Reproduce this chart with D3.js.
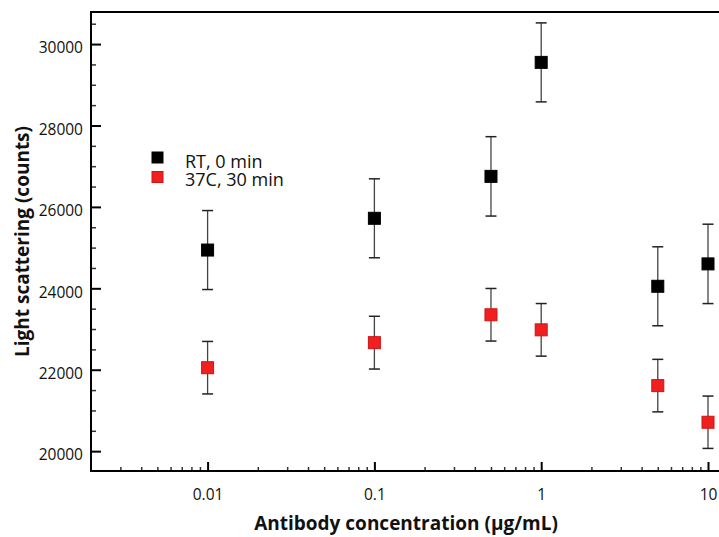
<!DOCTYPE html>
<html>
<head>
<meta charset="utf-8">
<script src="https://cdn.jsdelivr.net/npm/d3@7"></script>
<style>
  html, body { margin: 0; padding: 0; background: #fff; }
  svg { display: block; }
  text { font-family: "Open Sans", "Noto Sans", sans-serif; fill: #111; }
</style>
</head>
<body>
<script>
// Antibody concentrations (µg/mL)
const concentrations = [0.01, 0.1, 0.5, 1, 5, 10];

// Light scattering, room temperature, 0 min
const rtMean = [24940, 25720, 26750, 29550, 24050, 24600];
const rtErr  = [970, 970, 975, 970, 970, 975];

// Light scattering, 37C, 30 min
const warmMean = [22050, 22665, 23350, 22980, 21610, 20710];
const warmErr  = [645, 648, 646, 646, 645, 643];

const seriesNames = ["RT, 0 min", "37C, 30 min"];
const xTickLabels = ["0.01", "0.1", "1", "10"];
const yTickValues = [20000, 22000, 24000, 26000, 28000, 30000];

const W = 719, H = 537;
const plotLeft = 91, plotTop = 12, plotBottom = 471, plotRight = 719;
const FONT = "'Open Sans', 'Noto Sans', sans-serif";

const svg = d3.select("body").append("svg")
  .attr("width", W).attr("height", H);

const x = d3.scaleLog().domain([0.002, 11.64]).range([plotLeft, plotRight]);
const y = d3.scaleLinear().domain([19500, 30800]).range([plotBottom + 0.5, plotTop - 0.5]);

// Frame: top border line
svg.append("line")
  .attr("x1", plotLeft).attr("x2", plotRight + 5)
  .attr("y1", plotTop).attr("y2", plotTop)
  .attr("stroke", "#000").attr("stroke-width", 2);

// Y axis — minor ticks every 500
const minorY = d3.range(20000, 30800, 500).filter(v => v % 2000 !== 0);
svg.append("g")
  .attr("transform", `translate(${plotLeft},0)`)
  .call(d3.axisLeft(y).tickValues(minorY).tickSize(-5).tickFormat(""))
  .call(g => g.select(".domain").remove())
  .call(g => g.selectAll(".tick line").attr("stroke", "#333").attr("stroke-width", 1.5));

// Y axis — major ticks and labels
svg.append("g")
  .attr("transform", `translate(${plotLeft},0)`)
  .call(d3.axisLeft(y).tickValues(yTickValues).tickSize(-10).tickPadding(8).tickFormat(d3.format("d")))
  .call(g => g.select(".domain").remove())
  .call(g => g.selectAll(".tick line").attr("stroke", "#000").attr("stroke-width", 2))
  .call(g => g.selectAll(".tick text")
    .attr("dy", "0.56em")
    .style("font-family", FONT)
    .style("font-size", "15.5px").attr("fill", "#111"));

// X axis — minor ticks (2..9 per decade)
const minorX = [];
[0.001, 0.01, 0.1, 1].forEach(d => { for (let k = 2; k <= 9; k++) minorX.push(d * k); });
svg.append("g")
  .attr("transform", `translate(0,${plotBottom})`)
  .call(d3.axisBottom(x).tickValues(minorX.filter(v => v > 0.0021 && v < 11.6)).tickSize(-4).tickFormat(""))
  .call(g => g.select(".domain").remove())
  .call(g => g.selectAll(".tick line").attr("stroke", "#333").attr("stroke-width", 1.5));

// X axis — decades with labels
svg.append("g")
  .attr("transform", `translate(0,${plotBottom})`)
  .call(d3.axisBottom(x).tickValues([0.01, 0.1, 1, 10]).tickSize(-9).tickPadding(18)
    .tickFormat((d, i) => xTickLabels[i]))
  .call(g => g.select(".domain").remove())
  .call(g => g.selectAll(".tick line").attr("stroke", "#000").attr("stroke-width", 2))
  .call(g => g.selectAll(".tick text")
    .style("font-family", FONT)
    .style("font-size", "15.5px").attr("fill", "#111"));

// Axis lines
svg.append("line")
  .attr("x1", plotLeft).attr("x2", plotLeft)
  .attr("y1", plotTop - 1).attr("y2", plotBottom + 1)
  .attr("stroke", "#000").attr("stroke-width", 2);
svg.append("line")
  .attr("x1", plotLeft - 1).attr("x2", plotRight + 5)
  .attr("y1", plotBottom).attr("y2", plotBottom)
  .attr("stroke", "#000").attr("stroke-width", 2);

// Axis titles
svg.append("text")
  .attr("x", 406).attr("y", 530)
  .attr("text-anchor", "middle")
  .style("font-size", "19px").style("font-weight", "bold")
  .text("Antibody concentration (µg/mL)");

svg.append("text")
  .attr("transform", `translate(29,${(plotTop + plotBottom) / 2}) rotate(-90)`)
  .attr("text-anchor", "middle")
  .style("font-size", "19px").style("font-weight", "bold")
  .text("Light scattering (counts)");

// Series
const series = [
  { name: seriesNames[0], mean: rtMean, err: rtErr, fill: "#000", stroke: "#000" },
  { name: seriesNames[1], mean: warmMean, err: warmErr, fill: "#f02020", stroke: "#d01414" }
];

const size = 12, cap = 11;
series.forEach(s => {
  const g = svg.append("g");
  const pts = concentrations.map((c, i) => ({ c, m: s.mean[i], e: s.err[i] }));
  // error bars
  g.selectAll("line.bar").data(pts).join("line")
    .attr("class", "bar")
    .attr("x1", d => x(d.c)).attr("x2", d => x(d.c))
    .attr("y1", d => y(d.m + d.e)).attr("y2", d => y(d.m - d.e))
    .attr("stroke", "#444").attr("stroke-width", 1.3);
  ["capt", "capb"].forEach(cls => {
    g.selectAll("line." + cls).data(pts).join("line")
      .attr("class", cls)
      .attr("x1", d => x(d.c) - cap / 2).attr("x2", d => x(d.c) + cap / 2)
      .attr("y1", d => y(cls === "capt" ? d.m + d.e : d.m - d.e))
      .attr("y2", d => y(cls === "capt" ? d.m + d.e : d.m - d.e))
      .attr("stroke", "#222").attr("stroke-width", 1.5);
  });
  // markers
  g.selectAll("rect").data(pts).join("rect")
    .attr("x", d => x(d.c) - size / 2).attr("y", d => y(d.m) - size / 2)
    .attr("width", size).attr("height", size)
    .attr("fill", s.fill).attr("stroke", s.stroke).attr("stroke-width", 1);
});

// Legend
const legend = svg.append("g").attr("transform", "translate(157.5,157.5)");
series.forEach((s, i) => {
  legend.append("rect")
    .attr("x", -5.5).attr("y", i * 19.5 - 5.5).attr("width", 11).attr("height", 11)
    .attr("fill", s.fill).attr("stroke", s.stroke).attr("stroke-width", 1);
  legend.append("text")
    .attr("x", 27.5).attr("y", 10.5 + i * 17.7)
    .style("font-size", "18px")
    .text(s.name);
});
</script>
</body>
</html>
